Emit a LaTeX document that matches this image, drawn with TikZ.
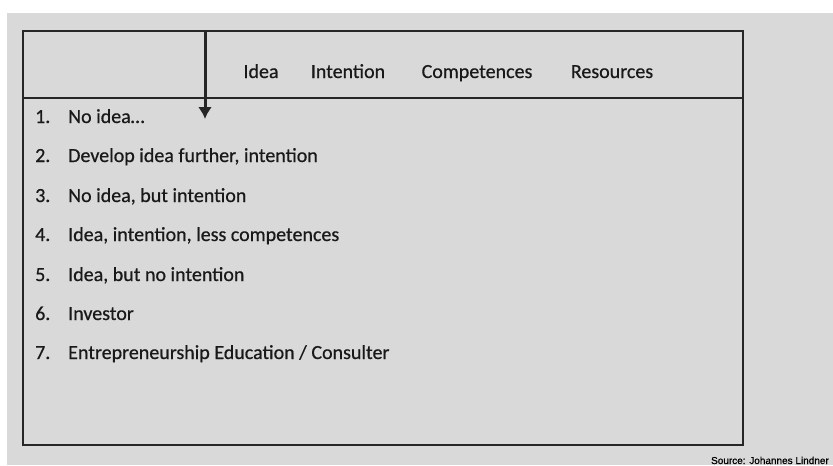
\documentclass[tikz,border=0pt]{standalone}
\usepackage{fontspec}
\setmainfont{Carlito}[FakeBold=0.6]
\newfontfamily\srcfont{Liberation Sans}[FakeBold=0.8]
\usetikzlibrary{arrows.meta}
\begin{document}
\begin{tikzpicture}[x=1pt,y=-1pt]
        \tikzstyle{header}=[anchor=base,inner sep=0pt,font=\fontsize{20}{24}\selectfont,text=black!90]
        \tikzstyle{item}=[anchor=base west,inner sep=0pt,font=\fontsize{20}{24}\selectfont,text=black!90]
        \tikzstyle{frame}=[draw=black!85,line width=2pt]
        \useasboundingbox (0,0) rectangle (833,466);
        \fill[black!15] (7,13) rectangle (833,465);
       \begin{scope}
         \draw[frame] (23,31) rectangle (743,445);
         \coordinate (hl) at (23,98);
         \coordinate (hr) at (743,98);
         \draw[frame] (hl) -- (hr);
         \node [header] (idea) at (261,78) {Idea};
         \node [header] (intention) at (348,78) {Intention};
         \node [header] (comp) at (477,78) {Competences};
         \node [header] (res) at (612,78) {Resources};
         \coordinate (top) at (205,31);
         \coordinate (tip) at (205,119);
         \draw[frame,line width=3pt,-{Latex[length=12pt,width=14pt]}] (top) -- (tip);
         \node [item] (n1) at (35,123) {\makebox[33pt][l]{1.}No idea\dots};
         \node [item] (n2) at (35,162) {\makebox[33pt][l]{2.}Develop idea further, intention};
         \node [item] (n3) at (35,202) {\makebox[33pt][l]{3.}No idea, but intention};
         \node [item] (n4) at (35,241) {\makebox[33pt][l]{4.}Idea, intention, less competences};
         \node [item] (n5) at (35,281) {\makebox[33pt][l]{5.}Idea, but no intention};
         \node [item] (n6) at (35,320) {\makebox[33pt][l]{6.}Investor};
         \node [item] (n7) at (35,359) {\makebox[33pt][l]{7.}Entrepreneurship Education / Consulter};
        \end{scope}
        \node [anchor=base east,inner sep=0pt,font=\fontsize{10}{12}\srcfont] (src) at (829,464) {Source: Johannes Lindner};
      \end{tikzpicture}
\end{document}
